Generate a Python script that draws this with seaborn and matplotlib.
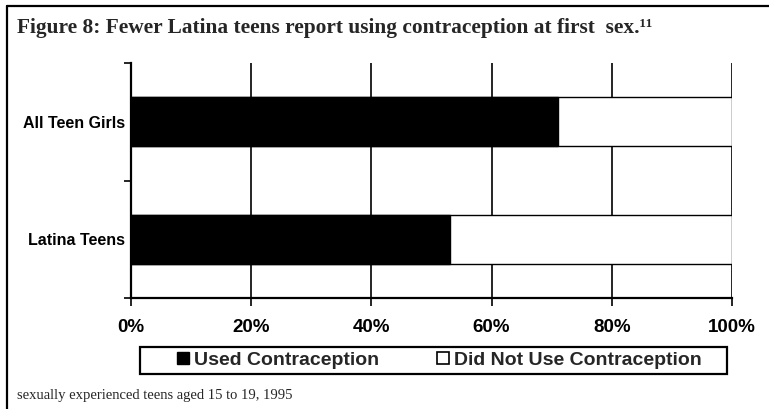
import matplotlib
matplotlib.use("Agg")
import matplotlib.pyplot as plt
from matplotlib.patches import Patch, Rectangle
from matplotlib.lines import Line2D
import seaborn as sns
import pandas as pd

# Share of sexually experienced teens (15-19, 1995) using contraception at first sex
groups = ["All Teen Girls", "Latina Teens"]
used = [71, 53]
not_used = [29, 47]
x_ticks = [0, 20, 40, 60, 80, 100]
x_tick_labels = ["0%", "20%", "40%", "60%", "80%", "100%"]
legend_labels = ["Used Contraception", "Did Not Use Contraception"]

df = pd.DataFrame({
    "group": groups,
    "used": used,
    "total": [u + n for u, n in zip(used, not_used)],
})

sns.set_theme(style="white")
plt.rcParams["font.family"] = ["Liberation Sans", "DejaVu Sans"]

W, H = 769, 409
fig = plt.figure(figsize=(W / 100, H / 100), dpi=100)
ax = fig.add_axes([131 / W, 1 - 298 / H, (732 - 131) / W, (298 - 63) / H])

# Stacked bars: full-width white bar, then the black "used" segment over it
sns.barplot(data=df, y="group", x="total", orient="h", color="white",
            edgecolor="black", linewidth=1.0, width=0.42, saturation=1, ax=ax)
sns.barplot(data=df, y="group", x="used", orient="h", color="black",
            edgecolor="black", linewidth=1.0, width=0.42, saturation=1, ax=ax)

ax.set_xlim(0, 100)
ax.set_ylim(1.5, -0.5)
ax.set_xlabel("")
ax.set_ylabel("")

# Vertical gridlines behind the bars
ax.set_axisbelow(True)
ax.grid(False)
for v in x_ticks[1:]:
    ax.axvline(v, color="black", linewidth=1.2, zorder=0)

ax.set_xticks(x_ticks)
ax.set_xticklabels(x_tick_labels, fontweight="bold", fontsize=13.5)
ax.tick_params(axis="x", direction="out", length=6, width=1.2, pad=9,
               colors="black", bottom=True)

ax.set_yticks([0, 1])
ax.set_yticklabels(groups, fontweight="bold", fontsize=11.5)
ax.tick_params(axis="y", length=0, pad=4.5, colors="black")
ax.set_yticks([-0.5, 0.5, 1.5], minor=True)
ax.tick_params(axis="y", which="minor", direction="out", length=5, width=1.2,
               left=True, colors="black")

for side in ["top", "right"]:
    ax.spines[side].set_visible(False)
for side in ["left", "bottom"]:
    ax.spines[side].set_visible(True)
    ax.spines[side].set_color("black")
    ax.spines[side].set_linewidth(1.6)

# Legend entries, with a separate rectangular frame around them
handles = [
    Patch(facecolor="black", edgecolor="black", linewidth=1),
    Patch(facecolor="white", edgecolor="black", linewidth=1.2),
]
fig.legend(handles, legend_labels,
           loc="center", bbox_to_anchor=(439.5 / W, 1 - 360.5 / H), ncol=2,
           frameon=False, handlelength=0.6, handleheight=0.6,
           handletextpad=0.25, columnspacing=3.0, borderpad=0.0,
           prop={"weight": "bold", "size": 14})
fig.add_artist(Rectangle((140 / W, 1 - 374 / H), (727 - 140) / W, 27 / H,
                         transform=fig.transFigure, facecolor="none",
                         edgecolor="black", linewidth=1.6))

# Title and source note
fig.text(17 / W, 1 - 28 / H,
         "Figure 8: Fewer Latina teens report using contraception at first  sex.\u00b9\u00b9",
         fontsize=15.4, fontweight="bold", family=["Liberation Serif", "DejaVu Serif"],
         va="center", ha="left")
fig.text(17 / W, 1 - 396 / H, "sexually experienced teens aged 15 to 19, 1995",
         fontsize=10.5, family=["Liberation Serif", "DejaVu Serif"],
         va="center", ha="left")

# Figure frame: left and top rules
fig.add_artist(Line2D([7 / W, 7 / W], [0, 1 - 6 / H], color="black",
                      linewidth=1.6, transform=fig.transFigure))
fig.add_artist(Line2D([7 / W, 1], [1 - 6 / H, 1 - 6 / H], color="black",
                      linewidth=1.6, transform=fig.transFigure))

fig.savefig("out.png", dpi=100, facecolor="white")
